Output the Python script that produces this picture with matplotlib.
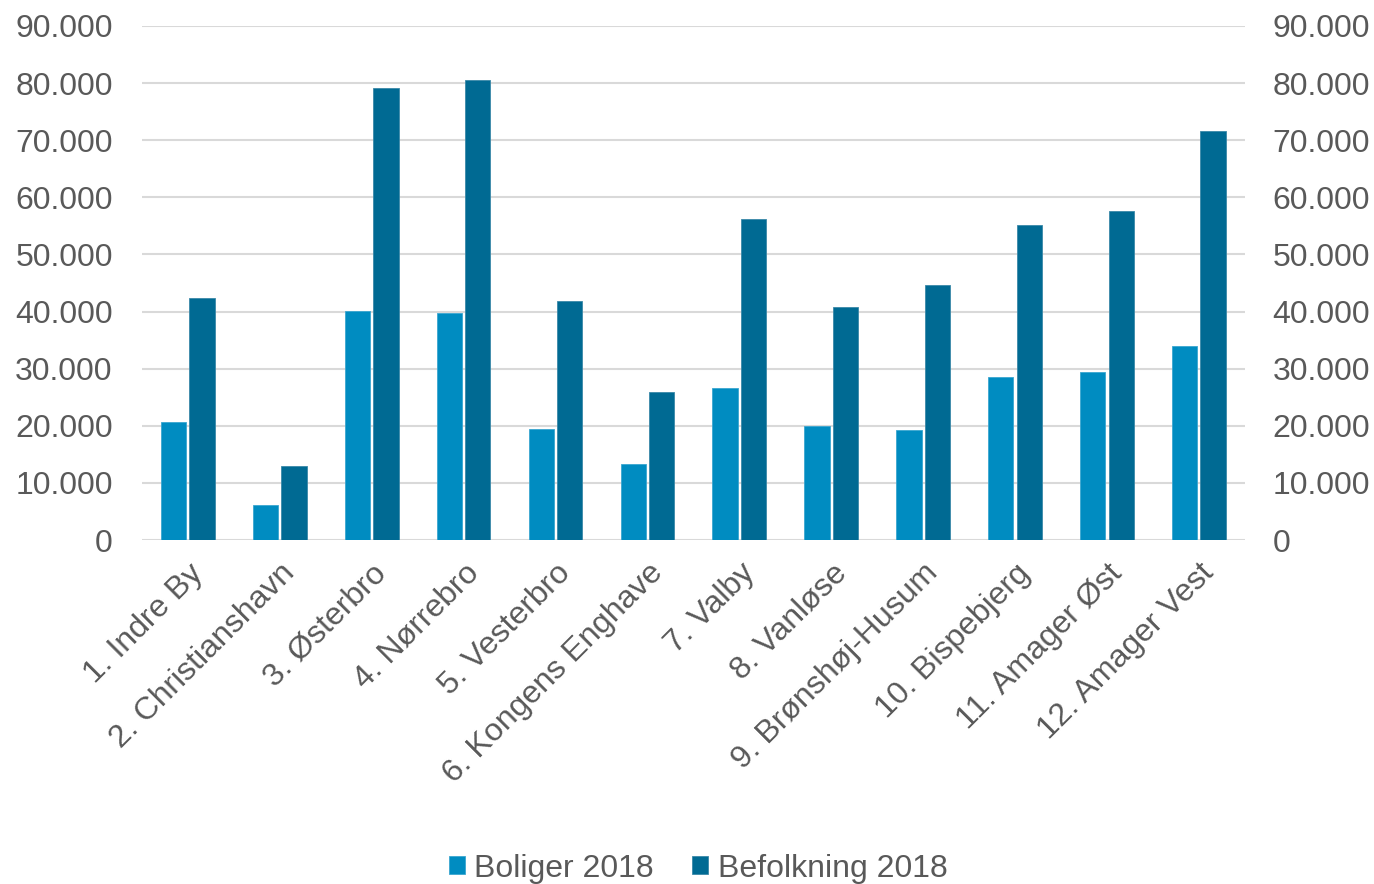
import matplotlib
matplotlib.use("Agg")
import matplotlib.pyplot as plt
import numpy as np
from matplotlib.ticker import FuncFormatter, MultipleLocator

categories = ["1. Indre By", "2. Christianshavn", "3. Østerbro", "4. Nørrebro",
              "5. Vesterbro", "6. Kongens Enghave", "7. Valby", "8. Vanløse",
              "9. Brønshøj-Husum", "10. Bispebjerg", "11. Amager Øst", "12. Amager Vest"]
boliger = [20600, 6200, 40100, 39800, 19400, 13400, 26700, 19900, 19300, 28500, 29400, 34000]
befolkning = [42300, 12900, 79200, 80500, 41800, 25900, 56200, 40800, 44600, 55200, 57600, 71700]
series_names = ["Boliger 2018", "Befolkning 2018"]

plt.rcParams['font.family'] = ['Liberation Sans', 'DejaVu Sans']
text_color = "#595959"
fs = 23

fig = plt.figure(figsize=(13.74, 8.84), dpi=100)
ax = fig.add_axes([0.1033, 0.389, 0.8027, 0.5816])

x = np.arange(len(categories))
w = 0.275
off = 0.155
ax.bar(x - off, boliger, width=w, color="#008CC1", edgecolor="#3aa6d0", linewidth=0.6,
       label=series_names[0], zorder=3)
ax.bar(x + off, befolkning, width=w, color="#006A93", edgecolor="#3a88a8", linewidth=0.6,
       label=series_names[1], zorder=3)

ax.set_xlim(-0.5, len(categories) - 0.5)
ax.set_ylim(0, 90000)
ax.yaxis.set_major_locator(MultipleLocator(10000))
fmt = FuncFormatter(lambda v, p: f"{int(v):,}".replace(",", "."))
ax.yaxis.set_major_formatter(fmt)
ax.grid(axis='y', color="#d9d9d9", linewidth=1.5, zorder=0)
for s in ax.spines.values():
    s.set_visible(False)
ax.tick_params(axis='both', length=0, labelsize=fs, labelcolor=text_color)
ax.tick_params(axis='y', pad=21)
ax.set_xticks(x)
ax.set_xticklabels(categories, rotation=45, ha='right', rotation_mode='anchor')
ax.tick_params(axis='x', pad=13)

ax2 = ax.twinx()
ax2.set_ylim(ax.get_ylim())
ax2.yaxis.set_major_locator(MultipleLocator(10000))
ax2.yaxis.set_major_formatter(fmt)
for s in ax2.spines.values():
    s.set_visible(False)
ax2.tick_params(axis='y', length=0, labelsize=fs, labelcolor=text_color, pad=20)

leg = fig.legend(loc='lower center', bbox_to_anchor=(0.508, -0.032), ncol=2, frameon=False,
                 fontsize=fs, handlelength=0.5, handleheight=0.5, handletextpad=0.3,
                 columnspacing=1.2)
for t in leg.get_texts():
    t.set_color(text_color)

fig.savefig("out.png", dpi=100)
